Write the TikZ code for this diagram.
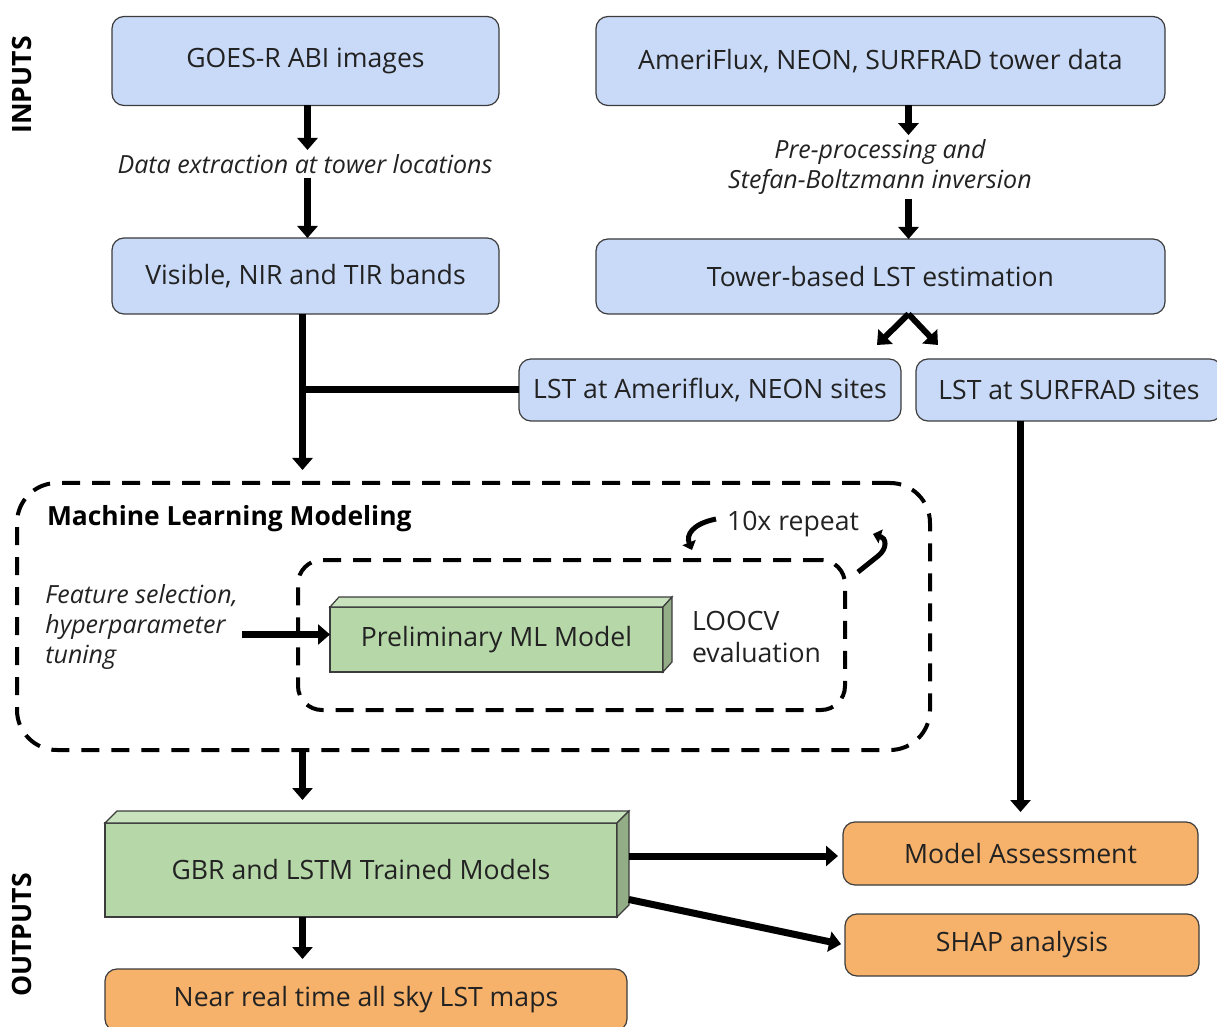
\documentclass[tikz,border=0pt]{standalone}
\usepackage{fontspec}
\setmainfont{Open Sans}
\usetikzlibrary{arrows.meta}

\definecolor{inblue}{HTML}{C9DAF8}
\definecolor{mlgreen}{HTML}{B6D7A8}
\definecolor{mltop}{HTML}{C8E2BD}
\definecolor{mlside}{HTML}{93AE86}
\definecolor{outorange}{HTML}{F6B26B}
\definecolor{boxline}{HTML}{3C3C3C}
\definecolor{txt}{HTML}{222222}

\newcommand{\mainsz}{\fontsize{13.3}{16}\selectfont}
\newcommand{\notesz}{\fontsize{12.5}{15}\selectfont}

\tikzset{
  inbox/.style={draw=boxline, fill=inblue, rounded corners=6pt, line width=0.6pt,
    inner sep=0pt, outer sep=0pt, text=txt, font=\mainsz},
  outbox/.style={inbox, fill=outorange},
  cubebox/.style={draw=boxline, fill=mlgreen, line width=0.6pt,
    inner sep=0pt, outer sep=0pt, text=txt, font=\mainsz},
  dashbox/.style={draw=black, line width=2pt, dash pattern=on 9pt off 6pt,
    inner sep=0pt, outer sep=0pt},
  note/.style={font=\notesz\itshape, text=txt, align=center, inner sep=2pt},
  sidelabel/.style={font=\mainsz\bfseries, rotate=90},
  arr/.style={line width=3.5pt, -{Triangle[width=10pt,length=6pt]}},
  loop/.style={line width=2.5pt, -{Triangle[width=7pt,length=4pt]}}
}

\begin{document}
\begin{tikzpicture}[x=0.5pt, y=-0.5pt]
  \useasboundingbox (0,0) rectangle (1217,1027);

  % Define the inputs
  \node[sidelabel] (inputs) at (22,85) {INPUTS};
  \node[sidelabel] (outputs) at (22,935) {OUTPUTS};

  \node[inbox, minimum width=193.5pt, minimum height=44.5pt] (goes) at (305.5,61) {GOES-R ABI images};
  \node[inbox, minimum width=284.5pt, minimum height=44.5pt] (tower) at (880.5,61) {AmeriFlux, NEON, SURFRAD tower data};

  \node[note] (extract) at (305,164) {Data extraction at tower locations};
  \node[note] (prep) at (880,167) {Pre-processing and\\Stefan-Boltzmann inversion};

  \node[inbox, minimum width=193.5pt, minimum height=38pt] (bands) at (305.5,276) {Visible, NIR and TIR bands};
  \node[inbox, minimum width=284.5pt, minimum height=37.5pt] (lstest) at (880.5,276.5) {Tower-based LST estimation};

  \node[inbox, minimum width=191pt, minimum height=31pt] (lstam) at (710,390) {LST at Ameriflux, NEON sites};
  \node[inbox, minimum width=153pt, minimum height=31pt] (lstsurf) at (1069,390) {LST at SURFRAD sites};

  % Machine learning part
  \node[dashbox, rounded corners=20pt, minimum width=456.5pt, minimum height=133.5pt] (ml) at (473.5,616.5) {};
  \node[dashbox, rounded corners=12pt, minimum width=273.5pt, minimum height=75pt] (cv) at (571.5,635) {};
  \node[font=\fontsize{13.2}{16}\selectfont\bfseries, text=black, anchor=west] (mltitle) at (40,519) {Machine Learning Modeling};
  \node[text=txt, font=\mainsz] (repeat) at (793,524) {10x repeat};
  \node[note, align=left, anchor=west] (feat) at (41,627) {Feature selection,\\hyperparameter\\tuning};
  \node[text=txt, font=\mainsz, align=left, anchor=west] (loocv) at (685,637) {LOOCV\\evaluation};

  \node[cubebox, minimum width=166.5pt, minimum height=32.5pt] (prelim) at (496.5,639.5) {Preliminary ML Model};
  \filldraw[fill=mltop, draw=boxline, line width=0.6pt] (prelim.north west) -- ++(9,-10) -- ([shift={(9,-10)}]prelim.north east) -- (prelim.north east) -- cycle;
  \filldraw[fill=mlside, draw=boxline, line width=0.6pt] (prelim.north east) -- ++(9,-10) -- ([shift={(9,-10)}]prelim.south east) -- (prelim.south east) -- cycle;

  % Define the outputs
  \node[cubebox, minimum width=256pt, minimum height=47pt] (gbr) at (361,870) {GBR and LSTM Trained Models};
  \filldraw[fill=mltop, draw=boxline, line width=0.6pt] (gbr.north west) -- ++(12,-12) -- ([shift={(12,-12)}]gbr.north east) -- (gbr.north east) -- cycle;
  \filldraw[fill=mlside, draw=boxline, line width=0.6pt] (gbr.north east) -- ++(12,-12) -- ([shift={(12,-12)}]gbr.south east) -- (gbr.south east) -- cycle;

  \node[outbox, minimum width=177.5pt, minimum height=31.5pt] (assess) at (1020.5,853.5) {Model Assessment};
  \node[outbox, minimum width=177pt, minimum height=31pt] (shap) at (1022,945) {SHAP analysis};
  \node[outbox, minimum width=261pt, minimum height=31pt] (near) at (366,1000) {Near real time all sky LST maps};

  % Draw the edges
  \coordinate (goesx) at ([xshift=1pt]goes.south);
  \draw[arr] (goesx) -- (goesx |- extract.north);
  \draw[arr] (goesx |- extract.south) -- ([xshift=1pt]bands.north);

  \coordinate (towerx) at ([xshift=14pt]tower.south);
  \draw[arr] (towerx) -- (towerx |- prep.north);
  \draw[arr] (towerx |- prep.south) -- ([xshift=14pt]lstest.north);

  \coordinate (fork) at ([xshift=14pt]lstest.south);
  \coordinate (forkl) at (877,345);
  \coordinate (forkr) at (938,345);
  \draw[arr, line width=3pt] (fork) -- (forkl);
  \draw[arr, line width=3pt] (fork) -- (forkr);

  \coordinate (bandsx) at ([xshift=-1.5pt]bands.south);
  \draw[arr] (bandsx) -- ([yshift=6.5pt]bandsx |- ml.north);
  \draw[line width=3.5pt] (lstam.west) -- (lstam.west -| bandsx);

  \draw[arr] (lstsurf.south -| assess.north) -- ([yshift=5pt]assess.north);

  \draw[arr] ([yshift=2.5pt]prelim.west -| feat.east) -- ([yshift=2.5pt]prelim.west);

  \coordinate (loopa) at (716,519);
  \coordinate (loopb) at (692,550);
  \coordinate (loopc) at (858,572);
  \coordinate (loopd) at (873,534);
  \draw[loop] (loopa) .. controls (692,524) and (686,535) .. (loopb);
  \draw[loop] (loopc) -- (878,556) .. controls (888,548) and (886,538) .. (loopd);

  \draw[arr] (ml.south -| bandsx) -- ([yshift=11.5pt]gbr.north -| bandsx);
  \draw[arr] (gbr.south -| bandsx) -- ([yshift=5pt]near.north -| bandsx);

  \draw[arr, shorten <=6pt] ([yshift=7pt]gbr.east) -- ([yshift=7pt,xshift=-2.5pt]gbr.east -| assess.west);
  \draw[arr, shorten <=6pt, shorten >=2pt] ([yshift=-13.5pt]gbr.east) -- (shap.west);
\end{tikzpicture}
\end{document}
